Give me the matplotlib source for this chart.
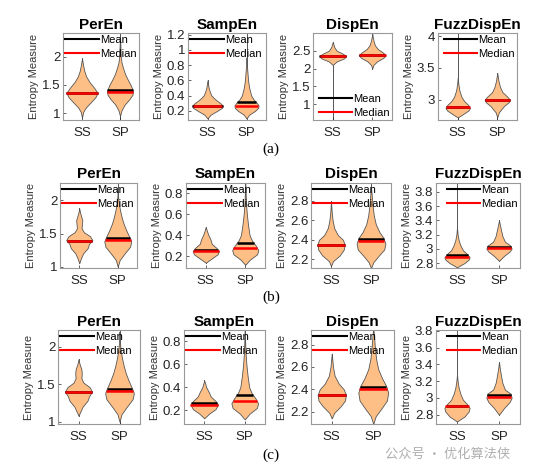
import numpy as np
import matplotlib
matplotlib.use('Agg')
import matplotlib.pyplot as plt
from matplotlib.lines import Line2D
from matplotlib.ticker import FormatStrFormatter

plt.rcParams['font.family'] = ['Liberation Sans', 'DejaVu Sans']

titles = ['PerEn', 'SampEn', 'DispEn', 'FuzzDispEn']
groups = ['SS', 'SP']
row_tags = ['(a)', '(b)', '(c)']

# ---- row (a) ----
a_ylims = [(0.88, 2.42), (0.08, 1.22), (0.55, 3.0), (2.68, 4.05)]
a_ticks = [[1, 1.5, 2], [0.2, 0.4, 0.6, 0.8, 1.0, 1.2], [1, 1.5, 2, 2.5], [3, 3.5, 4]]
a_means = [[1.36, 1.41], [0.27, 0.32], [2.35, 2.38], [2.89, 3.00]]
a_medians = [[1.36, 1.37], [0.26, 0.26], [2.34, 2.37], [2.88, 2.99]]
a_whiskers = [[(0.92, 1.97), (0.85, 2.6)], [(0.10, 0.60), (0.10, 1.3)],
              [(0.40, 2.75), (2.0, 3.1)], [(2.70, 4.2), (2.70, 3.42)]]

a_peren_ss_y = [0.92, 1.02, 1.10, 1.20, 1.28, 1.36, 1.45, 1.55, 1.65, 1.75, 1.85, 1.97]
a_peren_ss_w = [0, 0.03, 0.10, 0.24, 0.35, 0.41, 0.32, 0.20, 0.11, 0.06, 0.03, 0]
a_peren_sp_y = [0.95, 1.05, 1.15, 1.25, 1.33, 1.40, 1.50, 1.60, 1.70, 1.80, 1.90, 2.0, 2.2, 2.4]
a_peren_sp_w = [0, 0.04, 0.12, 0.25, 0.33, 0.34, 0.28, 0.20, 0.13, 0.08, 0.04, 0.02, 0.01, 0]
a_samp_ss_y = [0.10, 0.15, 0.20, 0.24, 0.27, 0.30, 0.35, 0.40, 0.45, 0.50, 0.60]
a_samp_ss_w = [0, 0.08, 0.25, 0.37, 0.39, 0.33, 0.20, 0.10, 0.06, 0.03, 0]
a_samp_sp_y = [0.10, 0.15, 0.20, 0.24, 0.27, 0.30, 0.35, 0.40, 0.50, 0.60, 0.70, 0.80, 0.90]
a_samp_sp_w = [0, 0.07, 0.22, 0.30, 0.31, 0.27, 0.18, 0.12, 0.07, 0.04, 0.025, 0.01, 0]
a_disp_ss_y = [2.10, 2.20, 2.28, 2.35, 2.42, 2.50, 2.60, 2.75]
a_disp_ss_w = [0, 0.10, 0.28, 0.34, 0.25, 0.10, 0.04, 0]
a_disp_sp_y = [2.0, 2.1, 2.2, 2.3, 2.37, 2.45, 2.55, 2.65, 2.75, 2.9, 3.0]
a_disp_sp_w = [0, 0.03, 0.12, 0.28, 0.34, 0.27, 0.14, 0.07, 0.04, 0.01, 0]
a_fuzz_ss_y = [2.72, 2.78, 2.83, 2.87, 2.92, 2.98, 3.05, 3.15, 3.25, 3.35]
a_fuzz_ss_w = [0, 0.15, 0.27, 0.31, 0.26, 0.16, 0.09, 0.04, 0.015, 0]
a_fuzz_sp_y = [2.72, 2.80, 2.90, 2.96, 3.00, 3.05, 3.12, 3.20, 3.30, 3.42]
a_fuzz_sp_w = [0, 0.04, 0.17, 0.29, 0.32, 0.25, 0.13, 0.07, 0.03, 0]

# ---- row (b) ----
b_ylims = [(0.98, 2.27), (0.09, 0.90), (2.11, 2.99), (2.73, 3.93)]
b_ticks = [[1, 1.5, 2], [0.2, 0.4, 0.6, 0.8], [2.2, 2.4, 2.6, 2.8], [2.8, 3.0, 3.2, 3.4, 3.6, 3.8]]
b_means = [[1.39, 1.44], [0.26, 0.33], [2.35, 2.41], [2.91, 3.02]]
b_medians = [[1.39, 1.40], [0.25, 0.28], [2.35, 2.39], [2.89, 3.01]]
b_whiskers = [[(1.05, 1.88), (0.9, 2.5)], [(0.14, 0.48), (0.12, 1.0)],
              [(2.13, 2.80), (2.05, 3.1)], [(2.74, 4.0), (2.83, 3.40)]]

b_peren_ss_y = [1.05, 1.12, 1.20, 1.28, 1.34, 1.40, 1.46, 1.52, 1.58, 1.64, 1.70, 1.76, 1.82, 1.88]
b_peren_ss_w = [0, 0.04, 0.10, 0.22, 0.25, 0.34, 0.28, 0.12, 0.06, 0.07, 0.08, 0.05, 0.02, 0]
b_peren_sp_y = [1.0, 1.1, 1.2, 1.3, 1.38, 1.45, 1.55, 1.65, 1.75, 1.85, 1.95, 2.05, 2.2]
b_peren_sp_w = [0, 0.05, 0.18, 0.32, 0.35, 0.30, 0.22, 0.15, 0.10, 0.06, 0.03, 0.01, 0]
b_samp_ss_y = [0.14, 0.18, 0.22, 0.25, 0.28, 0.32, 0.36, 0.40, 0.44, 0.48]
b_samp_ss_w = [0, 0.15, 0.30, 0.33, 0.27, 0.15, 0.12, 0.07, 0.03, 0]
b_samp_sp_y = [0.12, 0.17, 0.22, 0.26, 0.30, 0.35, 0.40, 0.50, 0.60, 0.70, 0.80, 0.90]
b_samp_sp_w = [0, 0.12, 0.30, 0.33, 0.27, 0.17, 0.11, 0.07, 0.04, 0.02, 0.01, 0]
b_disp_ss_y = [2.13, 2.18, 2.24, 2.30, 2.35, 2.40, 2.45, 2.52, 2.60, 2.70, 2.80]
b_disp_ss_w = [0, 0.05, 0.22, 0.32, 0.34, 0.30, 0.17, 0.08, 0.04, 0.015, 0]
b_disp_sp_y = [2.11, 2.17, 2.24, 2.30, 2.36, 2.42, 2.48, 2.56, 2.65, 2.75, 2.85, 2.95]
b_disp_sp_w = [0, 0.06, 0.20, 0.33, 0.36, 0.31, 0.21, 0.12, 0.07, 0.04, 0.02, 0]
b_fuzz_ss_y = [2.74, 2.80, 2.85, 2.88, 2.92, 2.98, 3.05, 3.12, 3.20, 3.30]
b_fuzz_ss_w = [0, 0.18, 0.28, 0.30, 0.25, 0.14, 0.08, 0.04, 0.015, 0]
b_fuzz_sp_y = [2.83, 2.90, 2.96, 3.00, 3.04, 3.10, 3.18, 3.26, 3.34, 3.40]
b_fuzz_sp_w = [0, 0.12, 0.25, 0.30, 0.28, 0.14, 0.08, 0.05, 0.02, 0]

# ---- row (c) ----
c_ylims = [(0.97, 2.22), (0.08, 0.90), (2.09, 2.93), (2.69, 3.81)]
c_ticks = [[1, 1.5, 2], [0.2, 0.4, 0.6, 0.8], [2.2, 2.4, 2.6, 2.8], [2.8, 3.0, 3.2, 3.4, 3.6, 3.8]]
c_means = [[1.40, 1.44], [0.26, 0.33], [2.35, 2.42], [2.91, 3.03]]
c_medians = [[1.40, 1.41], [0.25, 0.28], [2.35, 2.40], [2.90, 3.01]]
c_whiskers = [[(1.08, 1.83), (0.9, 2.5)], [(0.13, 0.46), (0.12, 1.0)],
              [(2.14, 2.72), (2.05, 3.1)], [(2.72, 4.0), (2.80, 3.43)]]

c_peren_ss_y = [1.08, 1.14, 1.20, 1.28, 1.34, 1.40, 1.46, 1.52, 1.58, 1.64, 1.70, 1.76, 1.83]
c_peren_ss_w = [0, 0.05, 0.10, 0.22, 0.26, 0.33, 0.27, 0.12, 0.07, 0.08, 0.07, 0.03, 0]
c_peren_sp_y = [1.0, 1.1, 1.2, 1.3, 1.38, 1.45, 1.55, 1.65, 1.75, 1.85, 1.95, 2.05, 2.2]
c_peren_sp_w = [0, 0.05, 0.18, 0.32, 0.35, 0.30, 0.22, 0.15, 0.10, 0.06, 0.03, 0.01, 0]
c_samp_ss_y = [0.13, 0.17, 0.21, 0.25, 0.28, 0.32, 0.36, 0.40, 0.46]
c_samp_ss_w = [0, 0.12, 0.28, 0.34, 0.28, 0.16, 0.11, 0.05, 0]
c_samp_sp_y = [0.12, 0.17, 0.22, 0.26, 0.30, 0.35, 0.40, 0.50, 0.60, 0.70, 0.80, 0.90]
c_samp_sp_w = [0, 0.12, 0.30, 0.33, 0.27, 0.17, 0.11, 0.07, 0.04, 0.02, 0.01, 0]
c_disp_ss_y = [2.14, 2.19, 2.25, 2.30, 2.35, 2.40, 2.45, 2.52, 2.60, 2.72]
c_disp_ss_w = [0, 0.06, 0.22, 0.32, 0.34, 0.29, 0.17, 0.07, 0.03, 0]
c_disp_sp_y = [2.09, 2.16, 2.23, 2.30, 2.37, 2.43, 2.50, 2.58, 2.67, 2.77, 2.87, 2.95]
c_disp_sp_w = [0, 0.06, 0.20, 0.33, 0.36, 0.31, 0.21, 0.12, 0.07, 0.04, 0.02, 0]
c_fuzz_ss_y = [2.72, 2.78, 2.84, 2.88, 2.92, 2.98, 3.05, 3.12, 3.20, 3.28]
c_fuzz_ss_w = [0, 0.18, 0.28, 0.30, 0.25, 0.14, 0.08, 0.04, 0.015, 0]
c_fuzz_sp_y = [2.80, 2.88, 2.95, 3.00, 3.05, 3.10, 3.18, 3.26, 3.35, 3.43]
c_fuzz_sp_w = [0, 0.12, 0.25, 0.30, 0.28, 0.14, 0.08, 0.05, 0.02, 0]

rows = [
    dict(ylims=a_ylims, ticks=a_ticks, means=a_means, medians=a_medians, whiskers=a_whiskers,
         profiles=[[(a_peren_ss_y, a_peren_ss_w), (a_peren_sp_y, a_peren_sp_w)],
                   [(a_samp_ss_y, a_samp_ss_w), (a_samp_sp_y, a_samp_sp_w)],
                   [(a_disp_ss_y, a_disp_ss_w), (a_disp_sp_y, a_disp_sp_w)],
                   [(a_fuzz_ss_y, a_fuzz_ss_w), (a_fuzz_sp_y, a_fuzz_sp_w)]]),
    dict(ylims=b_ylims, ticks=b_ticks, means=b_means, medians=b_medians, whiskers=b_whiskers,
         profiles=[[(b_peren_ss_y, b_peren_ss_w), (b_peren_sp_y, b_peren_sp_w)],
                   [(b_samp_ss_y, b_samp_ss_w), (b_samp_sp_y, b_samp_sp_w)],
                   [(b_disp_ss_y, b_disp_ss_w), (b_disp_sp_y, b_disp_sp_w)],
                   [(b_fuzz_ss_y, b_fuzz_ss_w), (b_fuzz_sp_y, b_fuzz_sp_w)]]),
    dict(ylims=c_ylims, ticks=c_ticks, means=c_means, medians=c_medians, whiskers=c_whiskers,
         profiles=[[(c_peren_ss_y, c_peren_ss_w), (c_peren_sp_y, c_peren_sp_w)],
                   [(c_samp_ss_y, c_samp_ss_w), (c_samp_sp_y, c_samp_sp_w)],
                   [(c_disp_ss_y, c_disp_ss_w), (c_disp_sp_y, c_disp_sp_w)],
                   [(c_fuzz_ss_y, c_fuzz_ss_w), (c_fuzz_sp_y, c_fuzz_sp_w)]]),
]

# layout in pixels (fig is 541 x 467)
W, H = 541, 467
row_top = [33, 182.5, 330]
row_bot = [120, 268, 424]
row_lefts = [[63, 188, 313, 438], [60, 186, 311, 436], [58, 184, 311, 436]]
row_widths = [[76, 78, 79, 79], [77, 79, 80, 84], [82, 81, 83, 84]]
tag_y = [149, 297, 455]

# legend placement per column; row (a) DispEn sits at the lower right
leg_locs = [['upper left', 'upper left', 'lower right', 'upper right'],
            ['upper left', 'upper left', 'upper left', 'upper right'],
            ['upper left', 'upper left', 'upper left', 'upper right']]

violin_face = '#FDBF85'
edge_col = '#555555'

fig = plt.figure(figsize=(W / 100, H / 100), dpi=100)

for r, row in enumerate(rows):
    for c in range(4):
        left = row_lefts[r][c] / W
        bottom = 1 - row_bot[r] / H
        ax = fig.add_axes([left, bottom, row_widths[r][c] / W, (row_bot[r] - row_top[r]) / H])
        for g in range(2):
            x = g + 1
            yv, wv = row['profiles'][c][g]
            yv = np.array(yv)
            wv = np.array(wv)
            lo, hi = row['whiskers'][c][g]
            ax.plot([x, x], [lo, hi], color=edge_col, lw=0.7, zorder=1)
            ax.fill_betweenx(yv, x - wv, x + wv, facecolor=violin_face,
                             edgecolor=edge_col, lw=0.6, zorder=2)
            m = row['means'][c][g]
            md = row['medians'][c][g]
            hw = np.interp(m, yv, wv)
            ax.plot([x - hw, x + hw], [m, m], color='black', lw=1.8, zorder=3,
                    solid_capstyle='butt')
            hw = np.interp(md, yv, wv)
            ax.plot([x - hw, x + hw], [md, md], color='red', lw=1.8, zorder=4,
                    solid_capstyle='butt')
        ax.set_xlim(0.5, 2.5)
        ax.set_ylim(*row['ylims'][c])
        ax.set_yticks(row['ticks'][c])
        ax.yaxis.set_major_formatter(FormatStrFormatter('%g'))
        ax.set_xticks([1, 2])
        ax.set_xticklabels(groups)
        ax.tick_params(direction='in', length=2, width=0.5, labelsize=9.5,
                       colors='#222222', pad=2)
        ax.tick_params(axis='x', pad=5)
        for s in ax.spines.values():
            s.set_color('#999999')
            s.set_linewidth(0.8)
        ax.set_title(titles[c], fontsize=11, fontweight='bold', pad=3)
        ax.set_ylabel('Entropy Measure', fontsize=8, color='#333333', labelpad=2)
        handles = [Line2D([0], [0], color='black', lw=1.5),
                   Line2D([0], [0], color='red', lw=1.5)]
        ax.legend(handles, ['Mean', 'Median'], loc=leg_locs[r][c], frameon=False,
                  fontsize=8, handlelength=3.0, handletextpad=0.1,
                  labelspacing=0.35, borderpad=0.2, borderaxespad=0.0)
    fig.text(271 / W, 1 - tag_y[r] / H, row_tags[r], ha='center', va='center',
             fontsize=11, family=['Liberation Serif', 'DejaVu Serif'])

# watermark
fig.text(385 / W, 1 - 454 / H, '公众号 · 优化算法侠', ha='left', va='center',
         fontsize=9.5, color='#b0b0b0', family=['Noto Sans CJK SC', 'DejaVu Sans'])

fig.savefig('out.png', dpi=100)
